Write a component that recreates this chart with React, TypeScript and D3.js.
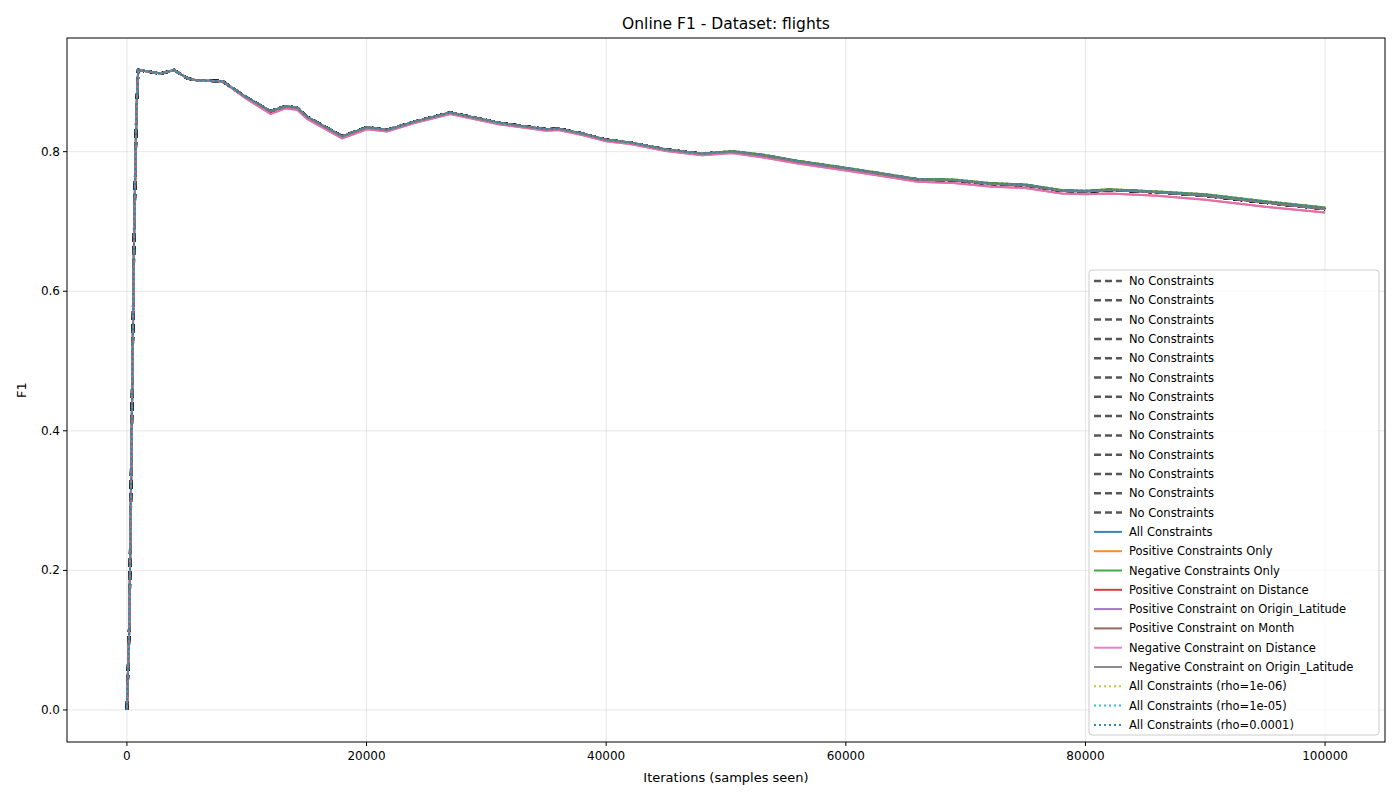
import { useEffect } from "react";
import * as d3 from "d3";

// samples seen
const iterations = [0, 200, 400, 600, 800, 940, 2830, 3940, 5050, 5890, 7970, 9770, 11990, 13240, 14210, 15040, 17960, 20040, 21710, 24000, 26980, 31140, 35000, 36000, 38000, 40000, 42000, 45000, 48000, 50500, 53000, 56000, 60000, 63000, 66000, 69000, 72000, 75000, 78000, 80000, 82000, 86000, 90000, 95000, 100000];
// most runs (No Constraints, All Constraints, ...)
const f1Base = [0.0, 0.12, 0.4, 0.68, 0.86, 0.917, 0.912, 0.917, 0.905, 0.902, 0.901, 0.880, 0.858, 0.865, 0.863, 0.850, 0.822, 0.835, 0.831, 0.843, 0.856, 0.841, 0.832, 0.833, 0.826, 0.817, 0.813, 0.803, 0.797, 0.800, 0.795, 0.786, 0.776, 0.768, 0.760, 0.759, 0.754, 0.752, 0.744, 0.743, 0.745, 0.742, 0.737, 0.727, 0.718];
// Positive / Negative Constraint on Distance
const f1Low = [0.0, 0.12, 0.4, 0.68, 0.86, 0.917, 0.912, 0.917, 0.905, 0.902, 0.901, 0.878, 0.854, 0.862, 0.860, 0.847, 0.819, 0.832, 0.829, 0.841, 0.854, 0.839, 0.830, 0.831, 0.824, 0.815, 0.811, 0.801, 0.795, 0.798, 0.792, 0.783, 0.773, 0.765, 0.757, 0.755, 0.750, 0.748, 0.740, 0.739, 0.740, 0.737, 0.731, 0.721, 0.713];
// Positive Constraints Only, Negative Constraints Only, rho runs
const f1High = [0.0, 0.12, 0.4, 0.68, 0.86, 0.917, 0.912, 0.917, 0.905, 0.902, 0.901, 0.880, 0.858, 0.865, 0.863, 0.850, 0.822, 0.835, 0.831, 0.843, 0.856, 0.841, 0.832, 0.833, 0.826, 0.817, 0.813, 0.803, 0.797, 0.801, 0.796, 0.787, 0.777, 0.769, 0.761, 0.760, 0.755, 0.753, 0.745, 0.744, 0.746, 0.743, 0.739, 0.729, 0.720];

const noConstraintCount = 13;
const seriesNames = ["All Constraints", "Positive Constraints Only", "Negative Constraints Only", "Positive Constraint on Distance", "Positive Constraint on Origin_Latitude", "Positive Constraint on Month", "Negative Constraint on Distance", "Negative Constraint on Origin_Latitude", "All Constraints (rho=1e-06)", "All Constraints (rho=1e-05)", "All Constraints (rho=0.0001)"];
const seriesColors = ["#1f77b4", "#ff7f0e", "#2ca02c", "#d62728", "#9467bd", "#8c564b", "#e377c2", "#7f7f7f", "#bcbd22", "#17becf", "#1f77b4"];
const seriesData = [f1Base, f1High, f1High, f1Low, f1Base, f1Base, f1Low, f1Base, f1High, f1High, f1High];
const seriesDotted = [false, false, false, false, false, false, false, false, true, true, true];

const xTicks = [0, 20000, 40000, 60000, 80000, 100000];
const yTicks = [0, 0.2, 0.4, 0.6, 0.8];

const W = 1400, H = 800;
const m = { left: 67, right: 1385, top: 38, bottom: 742 };
const font = "DejaVu Sans, sans-serif";

export default function App() {
  useEffect(() => { document.body.style.margin = "0"; }, []);
  const x = d3.scaleLinear().domain([-5000, 105000]).range([m.left, m.right]);
  const y = d3.scaleLinear().domain([-0.0459, 0.9629]).range([m.bottom, m.top]);
  const line = (vals: number[]) =>
    d3.line<number>().x((_, i) => x(iterations[i])).y((d) => y(d))(vals) || "";

  const legendRows = [
    ...Array.from({ length: noConstraintCount }, () => ({ name: "No Constraints", color: "#444", dash: "7,4", w: 2.5 })),
    ...seriesNames.map((n, i) => ({ name: n, color: seriesColors[i], dash: seriesDotted[i] ? "2,3" : "", w: 2 })),
  ];
  const lx = 1089, ly = 270, rowH = 19.3;

  return (
    <svg width={W} height={H} style={{ display: "block", fontFamily: font }}>
      <rect width={W} height={H} fill="#fff" />
      {xTicks.map((t) => (
        <line key={"gx" + t} x1={x(t)} x2={x(t)} y1={m.top} y2={m.bottom} stroke="#b0b0b0" strokeOpacity={0.3} />
      ))}
      {yTicks.map((t) => (
        <line key={"gy" + t} x1={m.left} x2={m.right} y1={y(t)} y2={y(t)} stroke="#b0b0b0" strokeOpacity={0.3} />
      ))}
      {Array.from({ length: noConstraintCount }, (_, i) => (
        <path key={"nc" + i} d={line(f1Base)} fill="none" stroke="#222" strokeOpacity={0.8} strokeWidth={2.5} strokeDasharray="9,4" />
      ))}
      {seriesNames.map((n, i) => (
        <path key={n} d={line(seriesData[i])} fill="none" stroke={seriesColors[i]} strokeOpacity={0.8} strokeWidth={2}
          strokeDasharray={seriesDotted[i] ? "2,3" : undefined} />
      ))}
      <rect x={m.left} y={m.top} width={m.right - m.left} height={m.bottom - m.top} fill="none" stroke="#000" strokeWidth={1} />
      {xTicks.map((t) => (
        <g key={"tx" + t}>
          <line x1={x(t)} x2={x(t)} y1={m.bottom} y2={m.bottom + 4} stroke="#000" />
          <text x={x(t)} y={m.bottom + 18} fontSize={12} textAnchor="middle">{t}</text>
        </g>
      ))}
      {yTicks.map((t) => (
        <g key={"ty" + t}>
          <line x1={m.left - 4} x2={m.left} y1={y(t)} y2={y(t)} stroke="#000" />
          <text x={m.left - 7} y={y(t) + 4} fontSize={12} textAnchor="end">{d3.format(".1f")(t)}</text>
        </g>
      ))}
      <text x={(m.left + m.right) / 2} y={782} fontSize={13} textAnchor="middle">Iterations (samples seen)</text>
      <text transform={`translate(26,${(m.top + m.bottom) / 2}) rotate(-90)`} fontSize={13} textAnchor="middle">F1</text>
      <text x={(m.left + m.right) / 2} y={29} fontSize={15.5} textAnchor="middle">Online F1 - Dataset: flights</text>
      <rect x={lx} y={ly} width={290} height={465} rx={3} fill="#fff" fillOpacity={0.8} stroke="#ccc" />
      {legendRows.map((r, i) => {
        const cy = ly + 11 + i * rowH;
        return (
          <g key={"lg" + i}>
            <line x1={lx + 5} x2={lx + 33} y1={cy} y2={cy} stroke={r.color} strokeOpacity={0.9} strokeWidth={r.w} strokeDasharray={r.dash || undefined} />
            <text x={lx + 40} y={cy + 4} fontSize={11.5}>{r.name}</text>
          </g>
        );
      })}
    </svg>
  );
}
